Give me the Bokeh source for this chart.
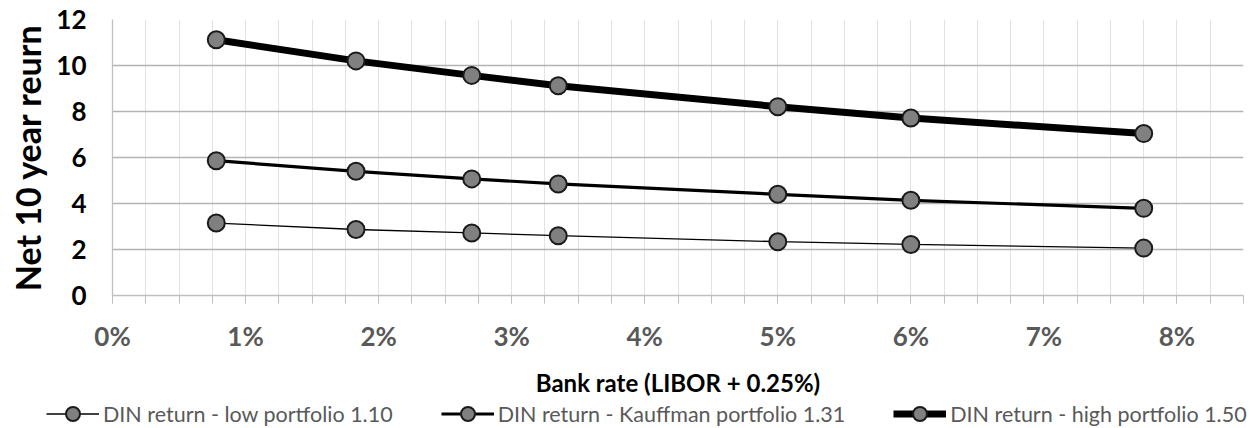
from bokeh.plotting import figure
from bokeh.layouts import column, row
from bokeh.models import (Legend, LegendItem, FixedTicker, Range1d,
                          CustomJSTickFormatter)
from bokeh.embed import file_html
from bokeh.resources import INLINE

# Data (bank rate in %, net 10-year return)
bank_rate = [0.78, 1.83, 2.70, 3.35, 5.00, 6.00, 7.75]
low_portfolio = [3.15, 2.87, 2.72, 2.60, 2.34, 2.22, 2.06]
kauffman_portfolio = [5.86, 5.40, 5.07, 4.85, 4.40, 4.14, 3.79]
high_portfolio = [11.12, 10.20, 9.57, 9.12, 8.21, 7.72, 7.04]

series_names = ["DIN return - low portfolio 1.10",
                "DIN return - Kauffman portfolio 1.31",
                "DIN return - high portfolio 1.50"]
x_ticks = [0, 1, 2, 3, 4, 5, 6, 7, 8]
x_minor = [i * 0.25 for i in range(0, 35)]
y_ticks = [0, 2, 4, 6, 8, 10, 12]

FONT = "Lato"

p = figure(width=1250, height=399, output_backend="svg", toolbar_location=None,
           x_range=Range1d(0, 8.5), y_range=Range1d(0, 12),
           min_border_left=112, min_border_right=7, min_border_top=19,
           min_border_bottom=103)
p.outline_line_color = None
p.background_fill_color = "white"

# grids
p.xgrid.ticker = FixedTicker(ticks=x_minor)
p.xgrid.grid_line_color = "#e3e3e3"
p.xgrid.grid_line_width = 1
p.ygrid.ticker = FixedTicker(ticks=y_ticks)
p.ygrid.grid_line_color = "#b3b3b3"
p.ygrid.grid_line_width = 1.3

# x axis
p.xaxis.ticker = FixedTicker(ticks=x_ticks, minor_ticks=x_minor)
p.xaxis.formatter = CustomJSTickFormatter(code="return tick.toFixed(0) + '%';")
p.xaxis.axis_line_color = "#bfbfbf"
p.xaxis.axis_line_width = 1.3
p.xaxis.major_tick_line_color = "#bfbfbf"
p.xaxis.minor_tick_line_color = "#bfbfbf"
p.xaxis.major_tick_out = 8
p.xaxis.major_tick_in = 0
p.xaxis.minor_tick_out = 8
p.xaxis.minor_tick_in = 0
p.xaxis.major_label_text_font = FONT
p.xaxis.major_label_text_font_style = "bold"
p.xaxis.major_label_text_font_size = "26px"
p.xaxis.major_label_text_color = "#595959"
p.xaxis.major_label_standoff = 16
p.xaxis.axis_label = "Bank rate (LIBOR + 0.25%)"
p.xaxis.axis_label_text_font = FONT
p.xaxis.axis_label_text_font_style = "bold"
p.xaxis.axis_label_text_font_size = "24px"
p.xaxis.axis_label_text_color = "black"
p.xaxis.axis_label_standoff = 13

# y axis
p.yaxis.ticker = FixedTicker(ticks=y_ticks)
p.yaxis.axis_line_color = "#bfbfbf"
p.yaxis.axis_line_width = 1.3
p.yaxis.major_tick_out = 0
p.yaxis.major_tick_in = 0
p.yaxis.minor_tick_out = 0
p.yaxis.minor_tick_in = 0
p.yaxis.major_tick_line_color = None
p.yaxis.minor_tick_line_color = None
p.yaxis.major_label_text_font = FONT
p.yaxis.major_label_text_font_style = "bold"
p.yaxis.major_label_text_font_size = "26px"
p.yaxis.major_label_text_color = "black"
p.yaxis.major_label_standoff = 26
p.yaxis.axis_label = "Net 10 year reurn"
p.yaxis.axis_label_text_font = FONT
p.yaxis.axis_label_text_font_style = "bold"
p.yaxis.axis_label_text_font_size = "34px"
p.yaxis.axis_label_text_color = "black"
p.yaxis.axis_label_standoff = 5

widths = [1.3, 3.2, 7]
series = [low_portfolio, kauffman_portfolio, high_portfolio]
for vals, w in zip(series, widths):
    p.line(bank_rate, vals, line_color="black", line_width=w)
    p.scatter(bank_rate, vals, size=17, fill_color="#808080",
              line_color="#1a1a1a", line_width=2)

# legend strip: a separate axis-free canvas; its renderers repeat the series
# but lie outside its (empty) view range, so only the legend samples show
lg = figure(width=1250, height=29, output_backend="svg", toolbar_location=None,
            x_range=Range1d(100, 101), y_range=Range1d(100, 101),
            x_axis_location=None, y_axis_location=None,
            min_border=0, min_border_left=0, min_border_right=0,
            min_border_top=0, min_border_bottom=0)
lg.grid.visible = False
lg.outline_line_color = None
items = []
for name, vals, w in zip(series_names, series, widths):
    ln = lg.line(bank_rate, vals, line_color="black", line_width=w)
    sc = lg.scatter(bank_rate, vals, size=17, fill_color="#808080",
                    line_color="#1a1a1a", line_width=2)
    items.append(LegendItem(label=name, renderers=[ln, sc], index=0))

legend = Legend(items=items, location=(46, -3), orientation="horizontal",
                padding=0, margin=0, spacing=48, border_line_color=None,
                background_fill_alpha=0, glyph_width=53, glyph_height=35,
                label_standoff=4, label_text_font=FONT,
                label_text_font_size="21.5px", label_text_color="#595959",
                label_height=35)
lg.add_layout(legend, "center")

layout = column(p, row(lg), spacing=0)
open("out.html", "w").write(file_html(layout, INLINE))
